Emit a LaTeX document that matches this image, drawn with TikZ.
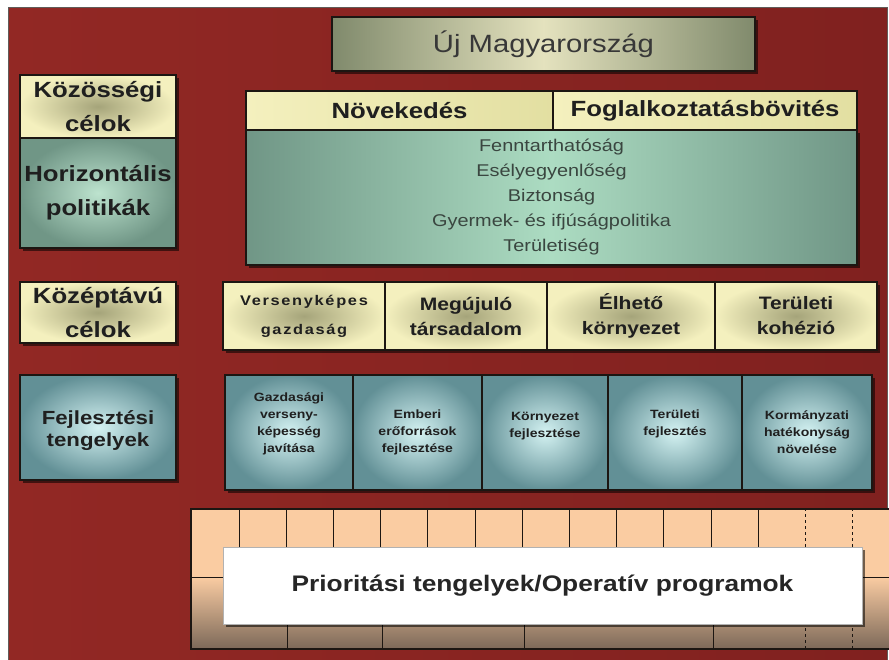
\documentclass[tikz,border=0pt]{standalone}
\usepackage{fontspec}
\setmainfont{Liberation Sans}[FakeStretch=1.17]
\usetikzlibrary{shadows}

\definecolor{bgred}{RGB}{146,40,36}
\definecolor{bgreddark}{RGB}{128,33,31}
\definecolor{boxline}{RGB}{28,22,18}
\definecolor{pale}{RGB}{244,240,190}
\definecolor{paledark}{RGB}{165,164,122}
\definecolor{olivegrey}{RGB}{128,138,108}
\definecolor{titlemid}{RGB}{228,226,190}
\definecolor{teal1}{RGB}{112,150,134}
\definecolor{teal2}{RGB}{172,220,194}
\definecolor{blue1}{RGB}{98,144,150}
\definecolor{blue2}{RGB}{212,242,242}
\definecolor{peach}{RGB}{250,204,162}
\definecolor{peachdark}{RGB}{126,106,90}
\definecolor{txtgrey}{RGB}{58,70,64}

\begin{document}
\begin{tikzpicture}[x=1pt, y=-1pt,
    box/.style={rectangle, draw=boxline, line width=1.5pt, align=center, inner sep=0pt, text=black!88},
    shadowed/.style={drop shadow={shadow xshift=2.5pt, shadow yshift=-2.5pt, opacity=0.55, fill=black}},
    yelbox/.style={box, inner color=paledark, outer color=pale},
    bandbox/.style={box, left color=pale, right color=pale!85!olive},
    greenbox/.style={box, left color=teal1, right color=teal1, middle color=teal2},
    tealbox/.style={box, inner color=teal2!80!white, outer color=teal1},
    bluebox/.style={box, inner color=blue2, outer color=blue1},
    bigbold/.style={font=\bfseries\fontsize{22}{34}\selectfont},
    smallbold/.style={font=\bfseries\fontsize{12}{17}\selectfont},
    gridline/.style={draw=boxline, line width=1pt}
]

% Háttér
\useasboundingbox (0,0) rectangle (889,659);
\fill[white] (0,0) rectangle (889,659);
\shade[left color=bgred, right color=bgreddark, draw=boxline!70, line width=0.6pt] (8,7) rectangle (887,662);

% Cím
\node[box, shadowed, left color=olivegrey, right color=olivegrey, middle color=titlemid,
      minimum width=423pt, minimum height=54pt, font=\fontsize{25}{30}\selectfont, text=black!78] (uj) at (543.5,44) {Új Magyarország};

% Bal oldali oszlop
\node[yelbox, shadowed, minimum width=156pt, minimum height=63pt, bigbold] (kozos) at (98,106.5) {Közösségi\\célok};
\node[tealbox, shadowed, minimum width=156pt, minimum height=110pt, bigbold] (horiz) at (98,193) {Horizontális\\politikák};
\node[yelbox, shadowed, minimum width=156pt, minimum height=61pt, bigbold] (kozep) at (98,312.5) {Középtávú\\célok};
\node[bluebox, shadowed, minimum width=156pt, minimum height=105pt, font=\bfseries\fontsize{19}{22}\selectfont] (fejl) at (98,427.5) {\\[-2pt]Fejlesztési\\tengelyek};

% Közösségi célok és horizontális politikák
\node[greenbox, shadowed, minimum width=611pt, minimum height=135pt, font=\fontsize{17}{25}\selectfont, text=txtgrey] (polbox) at (551.5,197.5)
    {\\[-13pt]Fenntarthatóság\\Esélyegyenlőség\\Biztonság\\Gyermek- és ifjúságpolitika\\Területiség};
\node[bandbox, minimum width=307pt, minimum height=39pt, font=\bfseries\fontsize{22}{26}\selectfont] (novek) at (399.5,110.5) {Növekedés};
\node[bandbox, minimum width=304pt, minimum height=39pt, font=\bfseries\fontsize{22}{26}\selectfont] (fogl) at (705,110.5) {Foglalkoztatásbövités};

% Középtávú célok
\node[yelbox, shadowed, minimum width=162pt, minimum height=68pt,
      font=\bfseries\fontsize{14}{29}\selectfont\addfontfeatures{LetterSpace=12}] (verseny) at (304,316) {Versenyképes\\gazdaság};
\node[yelbox, shadowed, minimum width=162pt, minimum height=68pt, font=\bfseries\fontsize{18}{25}\selectfont] (megujulo) at (466,316) {Megújuló\\társadalom};
\node[yelbox, shadowed, minimum width=168pt, minimum height=68pt, font=\bfseries\fontsize{18}{25}\selectfont] (elheto) at (631,316) {Élhető\\környezet};
\node[yelbox, shadowed, minimum width=162pt, minimum height=68pt, font=\bfseries\fontsize{18}{25}\selectfont] (kohezio) at (796,316) {Területi\\kohézió};

% Fejlesztési tengelyek
\node[bluebox, shadowed, minimum width=128pt, minimum height=115pt, smallbold] (gazd) at (289,432.5) {Gazdasági\\verseny-\\képesség\\javítása\\[3pt]};
\node[bluebox, shadowed, minimum width=129pt, minimum height=115pt, smallbold] (ember) at (417.5,432.5) {Emberi\\erőforrások\\fejlesztése};
\node[bluebox, shadowed, minimum width=126pt, minimum height=115pt, smallbold] (kornyezet) at (545,432.5) {Környezet\\fejlesztése\\[-2pt]};
\node[bluebox, shadowed, minimum width=134pt, minimum height=115pt, smallbold] (terfejl) at (675,432.5) {Területi\\fejlesztés\\[2pt]};
\node[bluebox, shadowed, minimum width=130pt, minimum height=115pt, smallbold] (korm) at (807,432.5) {Kormányzati\\hatékonyság\\növelése};

% Prioritási tengelyek rácsa
\fill[peach] (190,508) rectangle (895,577);
\shade[top color=peach, bottom color=peachdark] (190,577) rectangle (895,648);
\foreach \k in {0,...,11}
    \draw[gridline] ({239+47.2*\k},508) -- ({239+47.2*\k},577);
\foreach \x in {287,382,524,713}
    \draw[gridline] (\x,577) -- (\x,648);
\foreach \x in {805.4,852.6}
    \draw[gridline, dashed] (\x,508) -- (\x,648);
\draw[gridline] (190,577) -- (895,577);
\node[draw=boxline, line width=1.5pt, minimum width=705pt, minimum height=140pt, anchor=north west, inner sep=0pt] (panel) at (190,508) {};

\node[rectangle, draw=gray!60, fill=white, shadowed, minimum width=639pt, minimum height=77pt, inner sep=0pt,
      font=\bfseries\fontsize{22.5}{26}\selectfont, text=black!85] (prio) at (542.5,585.5) {Prioritási tengelyek/Operatív programok};

\end{tikzpicture}
\end{document}
